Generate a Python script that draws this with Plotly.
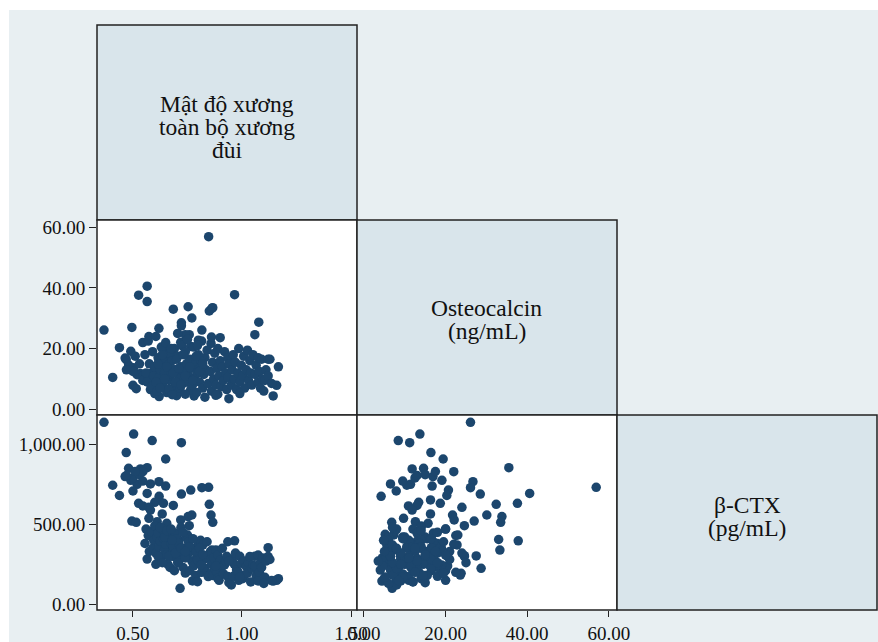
import plotly.graph_objects as go

# Femoral-neck bone mineral density (g/cm2), one value per subject
bmd = [
    0.367, 0.503, 0.588, 0.722, 0.469, 0.650, 0.565, 0.480, 0.534, 0.545,
    0.464, 0.490, 0.619, 0.580, 0.519, 0.407, 0.650, 0.847, 0.816, 0.765,
    0.500, 0.565, 0.722, 0.620, 0.438, 0.619, 0.600, 0.640, 0.526, 0.850,
    0.545, 0.685, 0.573, 0.580, 0.634, 0.753, 0.770, 0.858, 0.573, 0.866,
    0.495, 0.515, 0.719, 0.611, 0.655, 0.758, 0.642, 0.500, 0.530, 0.545,
    0.510, 0.470, 0.966, 0.685, 0.862, 1.077, 1.059, 1.143, 1.167, 1.159,
    0.722, 0.600, 0.620, 0.660, 0.780, 0.830, 0.860, 0.900, 0.800, 0.740,
    0.555, 0.560, 0.565, 0.570, 0.575, 0.585, 0.590, 0.595, 0.600, 0.605,
    0.610, 0.615, 0.620, 0.625, 0.630, 0.635, 0.640, 0.645, 0.650, 0.655,
    0.660, 0.665, 0.670, 0.675, 0.680, 0.685, 0.690, 0.695, 0.700, 0.705,
    0.710, 0.712, 0.716, 0.720, 0.725, 0.730, 0.735, 0.740, 0.745, 0.750,
    0.750, 0.705, 0.755, 0.760, 0.765, 0.770, 0.773, 0.778, 0.783, 0.788,
    0.792, 0.796, 0.800, 0.805, 0.810, 0.815, 0.820, 0.825, 0.830, 0.835,
    0.840, 0.845, 0.796, 0.812, 0.855, 0.860, 0.865, 0.870, 0.875, 0.880,
    0.885, 0.889, 0.889, 0.895, 0.900, 0.905, 0.910, 0.915, 0.920, 0.925,
    0.930, 0.935, 0.935, 0.940, 0.951, 0.955, 0.960, 0.965, 0.970, 0.975,
    0.981, 0.985, 0.990, 0.997, 1.003, 1.008, 1.012, 1.020, 1.025, 1.030,
    1.036, 1.040, 1.045, 1.050, 1.060, 1.065, 1.074, 1.074, 1.080, 1.085,
    1.090, 1.095, 1.105, 1.110, 1.120, 1.120, 1.128, 1.136, 1.100, 0.605,
    0.615, 0.625, 0.635, 0.645, 0.655, 0.665, 0.675, 0.685, 0.695, 0.700,
    0.710, 0.720, 0.730, 0.740, 0.760, 0.775, 0.790, 0.805, 0.820, 0.680,
    0.740, 0.880, 0.990, 0.940,
]

# Serum osteocalcin (ng/mL)
osteocalcin = [
    26.1, 13.7, 8.4, 11.2, 16.4, 19.4, 35.5, 14.6, 11.8, 22.0,
    16.9, 19.1, 26.7, 6.5, 11.4, 10.5, 16.7, 56.9, 26.1, 20.7,
    7.9, 40.6, 28.5, 4.2, 20.3, 16.3, 13.4, 18.7, 37.6, 32.4,
    10.9, 13.0, 24.0, 11.8, 16.3, 33.8, 30.1, 21.7, 9.7, 33.5,
    27.0, 6.8, 22.1, 12.6, 15.7, 24.6, 20.0, 12.5, 15.0, 9.5,
    17.5, 13.0, 37.8, 33.0, 33.3, 28.7, 24.6, 4.4, 14.0, 7.9,
    27.5, 5.2, 7.3, 5.6, 4.4, 4.0, 23.8, 23.6, 22.8, 24.6,
    18.0, 12.0, 9.0, 22.5, 15.0, 7.5, 19.0, 11.0, 14.0, 24.0,
    6.0, 17.0, 10.5, 13.0, 20.5, 8.0, 15.5, 12.0, 22.0, 5.5,
    14.5, 9.5, 18.5, 11.5, 16.0, 7.0, 20.0, 13.0, 4.5, 17.5,
    10.0, 6.0, 6.9, 14.0, 21.0, 8.5, 12.5, 19.0, 15.0, 9.0,
    23.0, 25.0, 11.0, 16.5, 6.5, 13.5, 8.0, 20.5, 10.5, 15.0,
    5.5, 12.0, 18.0, 9.0, 14.0, 22.5, 7.0, 11.5, 17.0, 13.0,
    19.5, 8.5, 21.0, 16.0, 12.5, 6.0, 15.5, 10.0, 18.5, 8.0,
    13.5, 5.0, 20.0, 11.0, 16.0, 7.5, 14.0, 9.5, 19.0, 12.0,
    6.5, 17.0, 10.5, 15.0, 8.0, 13.0, 18.0, 10.0, 15.5, 6.5,
    12.0, 20.0, 9.0, 14.5, 11.0, 17.5, 7.0, 13.0, 19.5, 9.5,
    16.0, 12.0, 8.0, 18.0, 11.5, 14.5, 9.0, 17.0, 12.5, 7.0,
    16.5, 10.0, 9.5, 13.0, 16.5, 11.0, 16.5, 8.5, 6.0, 9.0,
    15.0, 7.0, 18.0, 10.0, 14.0, 6.5, 20.0, 12.0, 9.0, 16.5,
    13.5, 8.0, 18.0, 11.0, 14.0, 9.5, 17.5, 12.5, 15.0, 4.8,
    5.0, 4.6, 5.2, 3.5,
]

# Serum beta-CTX (pg/mL)
ctx = [
    1137, 1064, 1023, 1010, 948, 908, 854, 850, 846, 829,
    798, 775, 766, 752, 750, 744, 739, 731, 729, 714,
    708, 693, 689, 675, 680, 652, 637, 631, 631, 625,
    615, 618, 606, 589, 565, 548, 558, 558, 537, 512,
    520, 512, 527, 516, 506, 491, 470, 790, 810, 770,
    830, 805, 397, 405, 339, 225, 300, 145, 160, 150,
    302, 437, 433, 371, 266, 214, 194, 183, 371, 304,
    380, 470, 283, 430, 330, 455, 350, 400, 490, 320,
    420, 445, 360, 395, 300, 470, 410, 340, 375, 310,
    250, 420, 230, 380, 300, 340, 210, 445, 290, 365,
    270, 400, 100, 480, 330, 230, 350, 195, 420, 310,
    433, 260, 390, 210, 330, 270, 146, 240, 350, 180,
    290, 141, 320, 260, 400, 200, 370, 230, 300, 287,
    391, 173, 280, 246, 330, 250, 180, 290, 225, 340,
    200, 162, 308, 150, 275, 230, 350, 190, 246, 270,
    300, 391, 173, 135, 121, 280, 175, 250, 320, 215,
    204, 150, 300, 256, 160, 270, 183, 235, 195, 260,
    298, 140, 225, 245, 240, 180, 146, 308, 200, 260,
    230, 290, 169, 270, 354, 298, 280, 148, 130, 250,
    300, 480, 260, 420, 460, 300, 470, 360, 320, 410,
    380, 350, 450, 290, 360, 410, 330, 350, 310, 400,
    330, 240, 170, 270,
]

diag_labels = [
    ["Mật độ xương", "toàn bộ xương", "đùi"],
    ["Osteocalcin", "(ng/mL)"],
    ["β-CTX", "(pg/mL)"],
]
bmd_ticks = [0.5, 1.0, 1.5]
osteo_ticks = [0, 20, 40, 60]
ctx_ticks = [0, 500, 1000]

W, H = 878, 642
MARKER = "#1c466d"
PANEL_FILL = "#d9e5eb"
OUTER_FILL = "#e8eff2"
EDGE = "#222222"
FONT = "'Liberation Serif', 'Times New Roman', 'DejaVu Serif', serif"

# grid geometry in pixels
cols = [97, 357, 617, 877]
rows = [25, 220, 415, 610]


def px(x):
    return x / W


def py(y):
    return 1 - y / H


fig = go.Figure()

marker = dict(color=MARKER, size=9.5, line=dict(width=0))
fig.add_trace(go.Scatter(x=bmd, y=osteocalcin, mode="markers", marker=marker,
                         xaxis="x3", yaxis="y", hoverinfo="skip"))
fig.add_trace(go.Scatter(x=bmd, y=ctx, mode="markers", marker=marker,
                         xaxis="x", yaxis="y2", hoverinfo="skip"))
fig.add_trace(go.Scatter(x=osteocalcin, y=ctx, mode="markers", marker=marker,
                         xaxis="x2", yaxis="y4", hoverinfo="skip"))

tickfont = dict(family=FONT, size=19, color="#111111")
common = dict(showgrid=False, zeroline=False, showline=False, ticks="outside",
              tickwidth=1.2, tickcolor=EDGE, tickfont=tickfont,
              fixedrange=True, automargin=False)
hidden = dict(visible=False, fixedrange=True, automargin=False)

bmd_range = [0.335, 1.5275]
osteo_x_range = [-1.71, 62.0]
osteo_y_range = [-1.88, 62.4]
ctx_range = [-35.6, 1183]

fig.update_layout(
    width=W, height=H, autosize=False,
    margin=dict(l=0, r=0, t=0, b=0, pad=0, autoexpand=False),
    paper_bgcolor="white",
    plot_bgcolor="rgba(0,0,0,0)",
    showlegend=False,
    xaxis=dict(domain=[px(cols[0]), px(cols[1])], range=bmd_range,
               tickvals=bmd_ticks, tickformat=".2f", anchor="y2",
               ticklen=6, **common),
    xaxis2=dict(domain=[px(cols[1]), px(cols[2])], range=osteo_x_range,
                tickvals=osteo_ticks, tickformat=".2f", anchor="y4",
                ticklen=6, **common),
    xaxis3=dict(domain=[px(cols[0]), px(cols[1])], range=bmd_range,
                anchor="y", **hidden),
    yaxis=dict(domain=[py(rows[2]), py(rows[1])], range=osteo_y_range,
               tickvals=osteo_ticks, tickformat=".2f", anchor="x3",
               ticklen=7, **common),
    yaxis2=dict(domain=[py(rows[3]), py(rows[2])], range=ctx_range,
                tickvals=ctx_ticks, tickformat=",.2f", anchor="x",
                ticklen=7, **common),
    yaxis4=dict(domain=[py(rows[3]), py(rows[2])], range=ctx_range,
                anchor="x2", **hidden),
)

shapes = [
    dict(type="rect", xref="paper", yref="paper", x0=px(9), x1=1, y0=0,
         y1=py(10), fillcolor=OUTER_FILL, line=dict(width=0), layer="below"),
]
# scatter cells (lower triangle) and variable-name cells (diagonal)
for r in range(3):
    for c in range(r + 1):
        fill = PANEL_FILL if r == c else "white"
        shapes.append(dict(type="rect", xref="paper", yref="paper",
                           x0=px(cols[c]), x1=px(cols[c + 1]),
                           y0=py(rows[r + 1]), y1=py(rows[r]),
                           fillcolor=fill, line=dict(color=EDGE, width=1.5),
                           layer="below"))
fig.update_layout(shapes=shapes)

# diagonal labels, one annotation per text line
line_centres = [[104, 127, 150], [308, 331], [505, 528]]
annotations = []
for i, lines in enumerate(diag_labels):
    cx = (cols[i] + cols[i + 1]) / 2
    for text, cy in zip(lines, line_centres[i]):
        annotations.append(dict(text=text, x=px(cx), y=py(cy), xref="paper",
                                yref="paper", showarrow=False,
                                xanchor="center", yanchor="middle",
                                font=dict(family=FONT, size=23.5,
                                          color="#111111")))
fig.update_layout(annotations=annotations)

fig.write_html(
    "out.html",
    post_script="document.body.style.margin='0';"
                "document.body.style.overflow='hidden';",
)
